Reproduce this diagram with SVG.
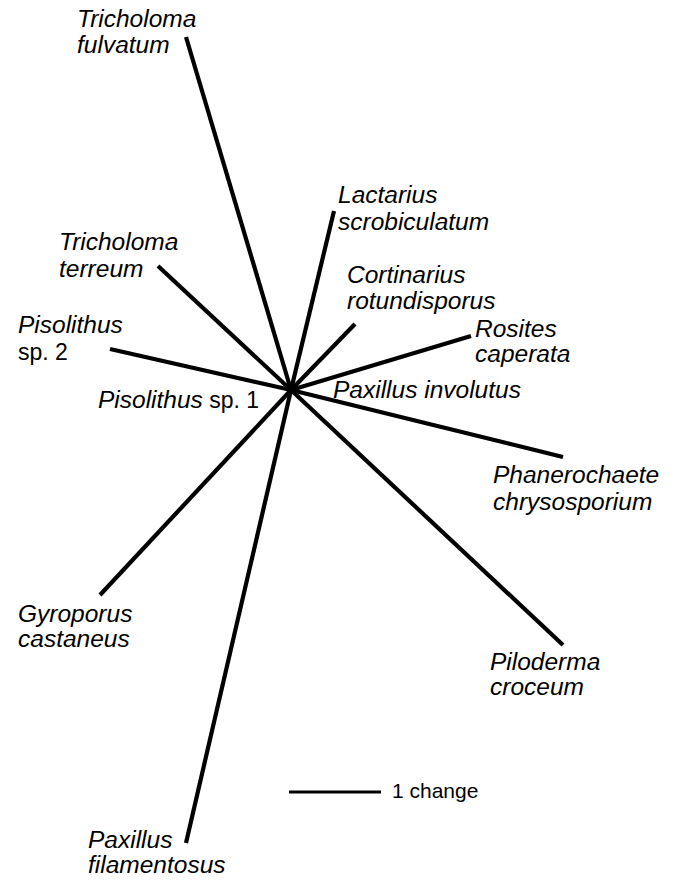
<svg xmlns="http://www.w3.org/2000/svg" width="673" height="881" viewBox="0 0 673 881">
<style>
.br{stroke:#000;stroke-width:4.2;fill:none;stroke-linecap:butt}
text{font-family:"Liberation Sans",Arial,sans-serif;font-size:23px;fill:#000}
.i{font-style:italic;font-size:24.5px}
.r{font-size:21px}
</style>
<rect width="673" height="881" fill="#fff"/>
<g id="connectors">
<line class="br" x1="291" y1="390" x2="186" y2="37"/>
<line class="br" x1="291" y1="390" x2="334" y2="211"/>
<line class="br" x1="291" y1="390" x2="158" y2="266"/>
<line class="br" x1="291" y1="390" x2="355" y2="324"/>
<line class="br" x1="291" y1="390" x2="471" y2="336"/>
<line class="br" x1="291" y1="390" x2="110" y2="349"/>
<line class="br" x1="291" y1="390" x2="563" y2="457"/>
<line class="br" x1="291" y1="390" x2="100" y2="595"/>
<line class="br" x1="291" y1="390" x2="563" y2="645"/>
<line class="br" x1="291" y1="390" x2="186" y2="843"/>
<line class="br" x1="289" y1="792" x2="381" y2="792" style="stroke-width:3"/>
</g>
<g id="tricholoma-fulvatum"><text class="i" x="77" y="27">Tricholoma</text><text class="i" x="77" y="53">fulvatum</text></g>
<g id="lactarius-scrobiculatum"><text class="i" x="338" y="203">Lactarius</text><text class="i" x="338" y="230">scrobiculatum</text></g>
<g id="tricholoma-terreum"><text class="i" x="59" y="250">Tricholoma</text><text class="i" x="59" y="277">terreum</text></g>
<g id="cortinarius-rotundisporus"><text class="i" x="347" y="283">Cortinarius</text><text class="i" x="347" y="309">rotundisporus</text></g>
<g id="rosites-caperata"><text class="i" x="475" y="337">Rosites</text><text class="i" x="475" y="362">caperata</text></g>
<g id="pisolithus-sp2"><text class="i" x="18" y="333">Pisolithus</text><text x="18" y="360">sp. 2</text></g>
<g id="paxillus-involutus"><text class="i" x="333" y="398">Paxillus involutus</text></g>
<g id="pisolithus-sp1"><text x="98" y="408"><tspan class="i">Pisolithus</tspan> sp. 1</text></g>
<g id="phanerochaete-chrysosporium"><text class="i" x="493" y="483">Phanerochaete</text><text class="i" x="493" y="510">chrysosporium</text></g>
<g id="gyroporus-castaneus"><text class="i" x="18" y="622">Gyroporus</text><text class="i" x="18" y="647">castaneus</text></g>
<g id="piloderma-croceum"><text class="i" x="490" y="670">Piloderma</text><text class="i" x="490" y="695">croceum</text></g>
<g id="paxillus-filamentosus"><text class="i" x="88" y="848">Paxillus</text><text class="i" x="88" y="873">filamentosus</text></g>
<g id="scale-bar"><text class="r" x="392" y="798">1 change</text></g>
</svg>
